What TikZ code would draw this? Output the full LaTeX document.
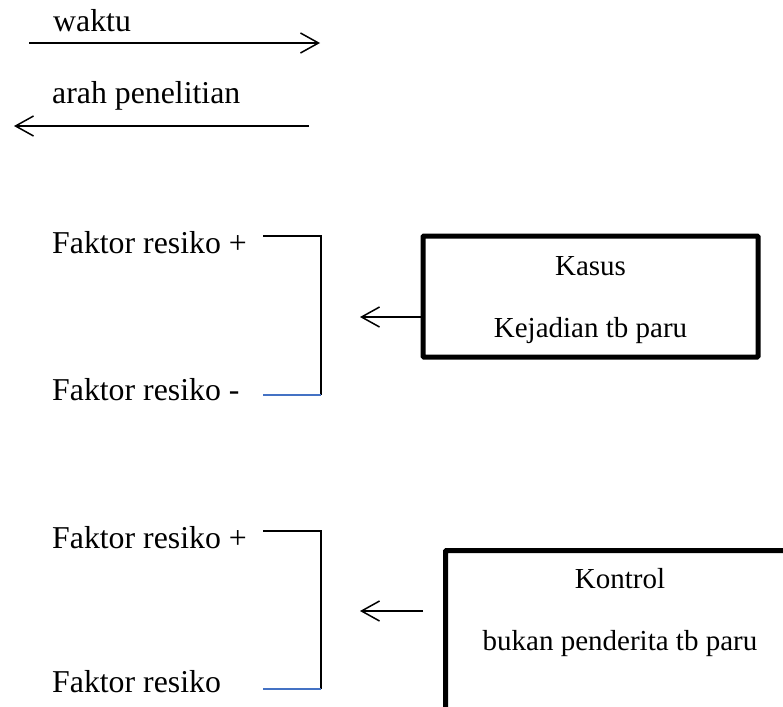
\documentclass[tikz,border=0pt]{standalone}
\usepackage{fontspec}
\setmainfont{Liberation Serif}
\usetikzlibrary{arrows.meta}
\definecolor{wordblue}{RGB}{68,114,196}
\begin{document}
\begin{tikzpicture}[x=1pt,y=-1pt,
  lbl/.style={anchor=base west,inner sep=0pt,font=\fontsize{31.8}{36}\selectfont},
  boxtxt/.style={anchor=base,inner sep=0pt,font=\fontsize{29}{34}\selectfont},
  conn/.style={line width=1.5pt},
  bluelink/.style={line width=1.5pt,draw=wordblue},
  arr/.style={line width=1.5pt,-{Straight Barb[length=18pt,width=20pt]}},
  thickbox/.style={draw,line width=5pt,rounded corners=1pt,inner sep=0pt}]
\useasboundingbox (0,0) rectangle (783,706);

% legend arrows
\node[lbl] (waktu) at (53,32) {waktu};
\coordinate (w1) at (29,43);
\coordinate (w2) at (320,43);
\draw[arr] (w1) -- (w2);
\node[lbl] (arah) at (52,103) {arah penelitian};
\coordinate (r1) at (309,126);
\coordinate (r2) at (14,126);
\draw[arr] (r1) -- (r2);

% group 1
\node[lbl] (f1p) at (52,253) {Faktor resiko +};
\node[lbl] (f1m) at (52,400) {Faktor resiko -};
\coordinate (b1a) at (263,236);
\coordinate (b1b) at (321,236);
\coordinate (b1c) at (321,395);
\coordinate (b1d) at (263,395);
\draw[conn] (b1a) -- (b1b) -- (b1c);
\draw[bluelink] (b1c) -- (b1d);
\node[thickbox,minimum width=335pt,minimum height=121pt] (kasus) at (590.5,296.5) {};
\node[boxtxt] (kasusT) at (590.5,275) {Kasus};
\node[boxtxt] (kejT) at (590.5,337) {Kejadian tb paru};
\coordinate (a1) at (360,317);
\draw[arr] (kasus.west |- a1) -- (a1);

% group 2
\node[lbl] (f2p) at (52,548) {Faktor resiko +};
\node[lbl] (f2m) at (52,692) {Faktor resiko};
\coordinate (b2a) at (263,531);
\coordinate (b2b) at (321,531);
\coordinate (b2c) at (321,689);
\coordinate (b2d) at (263,689);
\draw[conn] (b2a) -- (b2b) -- (b2c);
\draw[bluelink] (b2c) -- (b2d);
\node[thickbox,minimum width=354pt,minimum height=200pt,anchor=north west] (kontrol) at (443,548) {};
\node[boxtxt] (kontrolT) at (620,588) {Kontrol};
\node[boxtxt] (bukanT) at (620,650) {bukan penderita tb paru};
\coordinate (a2s) at (423,611);
\coordinate (a2) at (360,611);
\draw[arr] (a2s) -- (a2);
\end{tikzpicture}
\end{document}
